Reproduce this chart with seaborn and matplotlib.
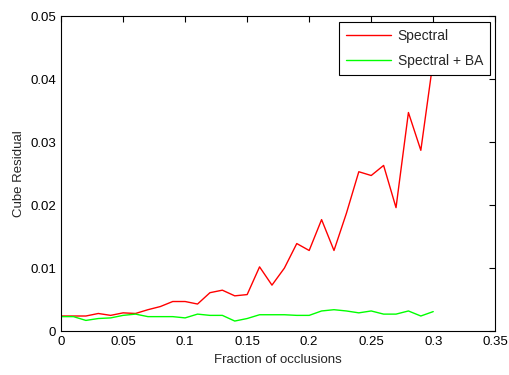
import numpy as np
import pandas as pd
import matplotlib
matplotlib.use("Agg")
import matplotlib.pyplot as plt
import seaborn as sns

# fraction of occlusions, 0 to 0.30 in steps of 0.01
fraction = [0.00, 0.01, 0.02, 0.03, 0.04, 0.05, 0.06, 0.07, 0.08, 0.09, 0.10,
            0.11, 0.12, 0.13, 0.14, 0.15, 0.16, 0.17, 0.18, 0.19, 0.20,
            0.21, 0.22, 0.23, 0.24, 0.25, 0.26, 0.27, 0.28, 0.29, 0.30]
spectral = [0.0024, 0.0024, 0.0024, 0.0028, 0.0025, 0.0029, 0.0028, 0.0034, 0.0039, 0.0047, 0.0047,
            0.0043, 0.0061, 0.0065, 0.0056, 0.0058, 0.0102, 0.0073, 0.0100, 0.0139, 0.0128,
            0.0177, 0.0128, 0.0187, 0.0253, 0.0247, 0.0263, 0.0196, 0.0347, 0.0287, 0.0430]
spectral_ba = [0.0023, 0.0023, 0.0017, 0.0020, 0.0021, 0.0025, 0.0027, 0.0023, 0.0023, 0.0023, 0.0021,
               0.0027, 0.0025, 0.0025, 0.0016, 0.0020, 0.0026, 0.0026, 0.0026, 0.0025, 0.0025,
               0.0032, 0.0034, 0.0032, 0.0029, 0.0032, 0.0027, 0.0027, 0.0032, 0.0024, 0.0031]
series_names = ["Spectral", "Spectral + BA"]
colors = ["#ff0000", "#00ff00"]

df = pd.DataFrame({
    "fraction": fraction * 2,
    "residual": spectral + spectral_ba,
    "method": [series_names[0]] * len(fraction) + [series_names[1]] * len(fraction),
})

sns.set_style("white")
plt.rcParams["font.family"] = ["Liberation Sans", "DejaVu Sans"]

fig = plt.figure(figsize=(5.09, 3.75), dpi=100)
ax = fig.add_axes([0.12, 0.117, 0.853, 0.84])

sns.lineplot(data=df, x="fraction", y="residual", hue="method",
             palette=dict(zip(series_names, colors)), linewidth=1, ax=ax)

ax.set_xlim(0, 0.35)
ax.set_ylim(0, 0.05)
ax.set_xticks(np.arange(0, 0.351, 0.05))
ax.set_xticklabels(["0", "0.05", "0.1", "0.15", "0.2", "0.25", "0.3", "0.35"])
ax.set_yticks(np.arange(0, 0.051, 0.01))
ax.set_yticklabels(["0", "0.01", "0.02", "0.03", "0.04", "0.05"])
ax.tick_params(direction="in", length=4, width=0.8, labelsize=9.5,
               top=True, right=True, colors="black")
for s in ax.spines.values():
    s.set_color("black")
    s.set_linewidth(0.8)

ax.set_xlabel("Fraction of occlusions", fontsize=9.5)
ax.set_ylabel("Cube Residual", fontsize=9.5)

leg = ax.legend(loc="upper right", fontsize=10, frameon=True, fancybox=False,
                bbox_to_anchor=(0.988, 0.981), borderaxespad=0,
                handlelength=3.3, handletextpad=0.45, labelspacing=0.8,
                borderpad=0.5)
leg.get_frame().set_edgecolor("black")
leg.get_frame().set_linewidth(0.8)
leg.get_frame().set_alpha(1)
leg.set_zorder(5)

fig.savefig("out.png", dpi=100)
